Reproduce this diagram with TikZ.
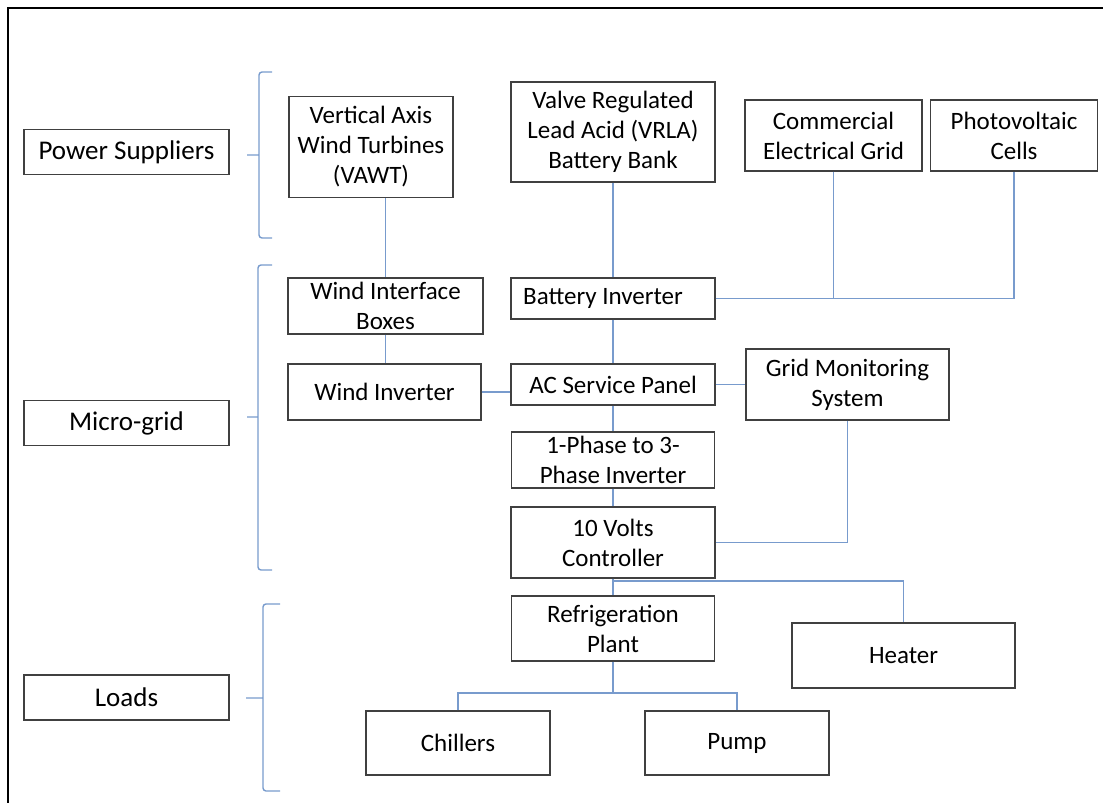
\documentclass[tikz,border=0pt]{standalone}
\usepackage{fontspec}
\setmainfont{Carlito}
\definecolor{wire}{RGB}{120,155,205}
\definecolor{frame}{RGB}{64,64,64}

\begin{document}
\begin{tikzpicture}[x=1pt, y=-1pt,
  box/.style = {draw=frame, line width=1.2pt, rectangle, align=center, inner sep=0pt, font=\fontsize{25}{30}\selectfont},
  group/.style = {box, minimum width=205pt, minimum height=45pt, font=\fontsize{27}{32}\selectfont},
  link/.style = {draw=wire, line width=1.2pt},
  curly/.style = {draw=wire, line width=1.4pt, rounded corners=3pt}]
  \useasboundingbox (0,0) rectangle (1103,803);
  \draw[line width=2pt] (8,803) -- (8,8) -- (1103,8);

  % groups on the left
  \node[group] (psup) at (126.5,152) {Power Suppliers};
  \node[group] (mgrid) at (126.5,423) {Micro-grid};
  \node[group] (loads) at (126.5,697.5) {Loads};
  % braces: top/bottom/tip y, spine x, end x, tip x
  \foreach \ytop/\ybot/\ytip/\xs/\xe/\xt in {72/238/155/259/272/247, 265/570/417/258/272/247, 604/791/698/263/280/246}
    \draw[curly] (\xe,\ytop) -- (\xs,\ytop) -- (\xs,\ybot) -- (\xe,\ybot) (\xs,\ytip) -- (\xt,\ytip);

  % power suppliers
  \node[box, minimum width=164pt, minimum height=101pt] (vawt) at (371,147) {Vertical Axis\\Wind Turbines\\(VAWT)};
  \node[box, minimum width=204pt, minimum height=100pt] (vrla) at (613,132) {Valve Regulated\\Lead Acid (VRLA)\\Battery Bank};
  \node[box, minimum width=177pt, minimum height=71pt] (ceg) at (833.5,135.5) {Commercial\\Electrical Grid};
  \node[box, minimum width=167pt, minimum height=71pt] (pv) at (1014,135.5) {Photovoltaic\\Cells};

  % micro-grid
  \node[box, minimum width=195pt, minimum height=56pt] (wib) at (385.5,306) {Wind Interface\\Boxes};
  \node[box, minimum width=193pt, minimum height=56pt] (winv) at (384.5,392) {Wind Inverter};
  \node[box, minimum width=204pt, minimum height=41pt] (binv) at (613,298.5) {Battery Inverter\hspace{20pt}};
  \node[box, minimum width=204pt, minimum height=41pt] (acp) at (613,384.5) {AC Service Panel};
  \node[box, minimum width=203pt, minimum height=56pt] (ph3) at (613,460) {1-Phase to 3-\\Phase Inverter};
  \node[box, minimum width=204pt, minimum height=71pt] (volts) at (613,542.5) {10 Volts\\Controller};
  \node[box, minimum width=203pt, minimum height=71pt] (gms) at (847.5,384.5) {Grid Monitoring\\System};

  % loads
  \node[box, minimum width=203pt, minimum height=65pt] (refr) at (613,628.5) {Refrigeration\\Plant};
  \node[box, minimum width=223pt, minimum height=65pt] (heater) at (903.5,655.5) {Heater};
  \node[box, minimum width=184pt, minimum height=64pt] (chill) at (458,743) {Chillers};
  \node[box, minimum width=184pt, minimum height=64pt] (pump) at (737,743) {Pump};
  \coordinate (tap) at (613,581);
  \coordinate (split) at (613,693);

  % connections
  \draw[link] (vawt.south -| wib.north) -- (wib.north);
  \draw[link] (wib.south) -- (wib.south |- winv.north);
  \draw[link] (winv.east) -- (winv.east -| acp.west);
  \draw[link] (vrla) -- (binv);
  \draw[link] (binv.east) -| (pv.south);
  \draw[link] (ceg.south) -- (ceg.south |- binv.east);
  \draw[link] (binv) -- (acp);
  \draw[link] (acp) -- (gms);
  \draw[link] (acp) -- (ph3);
  \draw[link] (ph3) -- (volts);
  \draw[link] (gms.south) |- (volts.east);
  \draw[link] (volts) -- (refr);
  \draw[link] (tap) -| (heater.north);
  \draw[link] (refr.south) -- (split);
  \draw[link] (chill.north) |- (split) -| (pump.north);
\end{tikzpicture}
\end{document}
